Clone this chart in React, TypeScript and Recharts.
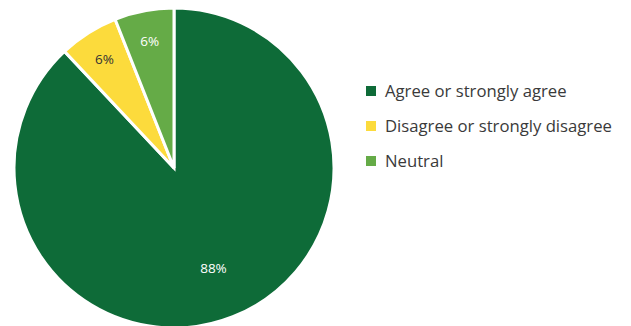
import { Cell, Legend, Pie, PieChart } from "recharts";

const categories = ["Agree or strongly agree", "Disagree or strongly disagree", "Neutral"];
const shares = [88, 6, 6];
const colors = ["#0e6b38", "#fcdb3c", "#65ab47"];
const labelColors = ["#ffffff", "#333333", "#ffffff"];

const data = categories.map((name, i) => ({ name, value: shares[i] }));

const RAD = Math.PI / 180;

function renderLabel(props: any) {
  const { cx, cy, midAngle, outerRadius, percent, index, value } = props;
  const r = outerRadius * (percent > 0.5 ? 0.67 : 0.81);
  const x = cx + r * Math.cos(-midAngle * RAD);
  const y = cy + r * Math.sin(-midAngle * RAD);
  return (
    <text
      x={x}
      y={y}
      fill={labelColors[index]}
      textAnchor="middle"
      dominantBaseline="central"
      fontSize={13.5}
      fontFamily="Open Sans, sans-serif"
    >
      {`${value}%`}
    </text>
  );
}

function LegendList() {
  return (
    <ul style={{ listStyle: "none", margin: 0, padding: 0, fontFamily: "Open Sans, sans-serif" }}>
      {categories.map((name, i) => (
        <li
          key={name}
          style={{ display: "flex", alignItems: "center", height: 35, fontSize: 16.7, color: "#3a3a3a" }}
        >
          <span
            style={{ width: 10, height: 10, background: colors[i], display: "inline-block", marginRight: 9 }}
          />
          {name}
        </li>
      ))}
    </ul>
  );
}

export default function App() {
  return (
    <div style={{ position: "fixed", left: 0, top: 0, width: 631, height: 326, background: "#fff" }}>
      <PieChart width={631} height={326}>
        <Pie
          data={data}
          dataKey="value"
          nameKey="name"
          cx={169}
          cy={163}
          outerRadius={160}
          startAngle={90}
          endAngle={-270}
          stroke="#ffffff"
          strokeWidth={3}
          label={renderLabel}
          labelLine={false}
          isAnimationActive={false}
        >
          {data.map((entry, i) => (
            <Cell key={entry.name} fill={colors[i]} />
          ))}
        </Pie>
        <Legend
          content={<LegendList />}
          wrapperStyle={{ position: "absolute", left: 366, top: 73, width: 265 }}
        />
      </PieChart>
    </div>
  );
}
